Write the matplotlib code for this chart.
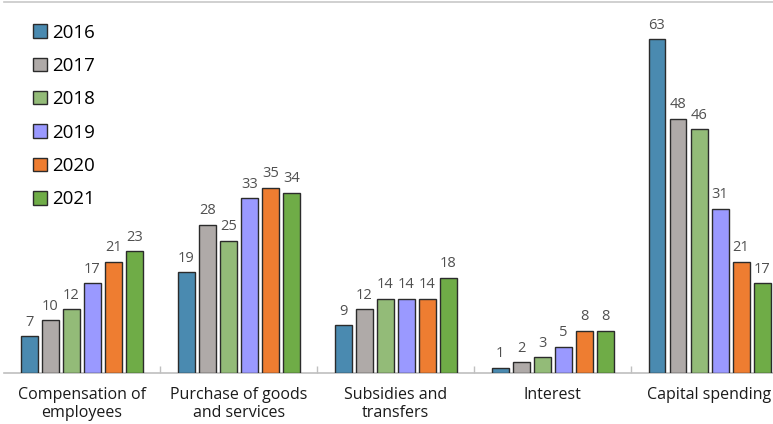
import numpy as np
import matplotlib
matplotlib.use("Agg")
import matplotlib.pyplot as plt

categories = ["Compensation of\nemployees", "Purchase of goods\nand services",
              "Subsidies and\ntransfers", "Interest", "Capital spending"]
years = ["2016", "2017", "2018", "2019", "2020", "2021"]
values = {
    "2016": [7, 19, 9, 1, 63],
    "2017": [10, 28, 12, 2, 48],
    "2018": [12, 25, 14, 3, 46],
    "2019": [17, 33, 14, 5, 31],
    "2020": [21, 35, 14, 8, 21],
    "2021": [23, 34, 18, 8, 17],
}
colors = ["#4a8ab0", "#afaaa8", "#93bb78", "#9a99ff", "#ee7d31", "#6fac47"]

plt.rcParams['font.family'] = ['Open Sans', 'DejaVu Sans']

fig = plt.figure(figsize=(7.73, 4.24), dpi=100)
W, H = 773, 424
left, right, bottom, top = 3.5, 788.0, 51, 422
ax = fig.add_axes([left / W, bottom / H, (right - left) / W, (top - bottom) / H])

x = np.arange(len(categories))
step = 0.134
width = 0.108
for i, (yr, c) in enumerate(zip(years, colors)):
    pos = x + (i - 2.5) * step
    bars = ax.bar(pos, values[yr], width, color=c, edgecolor="#2b2b2b",
                  linewidth=1.0, label=yr, zorder=3)
    for b, v in zip(bars, values[yr]):
        ax.text(b.get_x() + b.get_width() / 2, v + 1.2, str(v),
                ha="center", va="bottom", fontsize=10.5, color="#505050")

ax.set_xlim(-0.5, 4.5)
ax.set_ylim(0, 70)
ax.set_yticks([])
ax.set_xticks(x)
ax.set_xticklabels(categories, fontsize=11.5, color="#1a1a1a", linespacing=1.15)
ax.tick_params(axis="x", which="major", length=0, pad=10)
ax.set_xticks(x[:-1] + 0.5, minor=True)
ax.tick_params(axis="x", which="minor", direction="in", length=5,
               color="#c0c0c0", width=1)
for s in ["left", "right"]:
    ax.spines[s].set_visible(False)
ax.spines["bottom"].set_color("#bfbfbf")
ax.spines["top"].set_color("#c8c8c8")
ax.spines["bottom"].set_linewidth(1.2)
ax.spines["top"].set_linewidth(1.2)

leg = ax.legend(loc="upper left", bbox_to_anchor=(22 / (right - left), 0.962),
                frameon=False, fontsize=13.5, handlelength=0.72, handleheight=0.72,
                handletextpad=0.3, labelspacing=0.82, borderaxespad=0)
for h in leg.legend_handles:
    h.set_edgecolor("#2b2b2b")

fig.savefig("out.png", dpi=100)
